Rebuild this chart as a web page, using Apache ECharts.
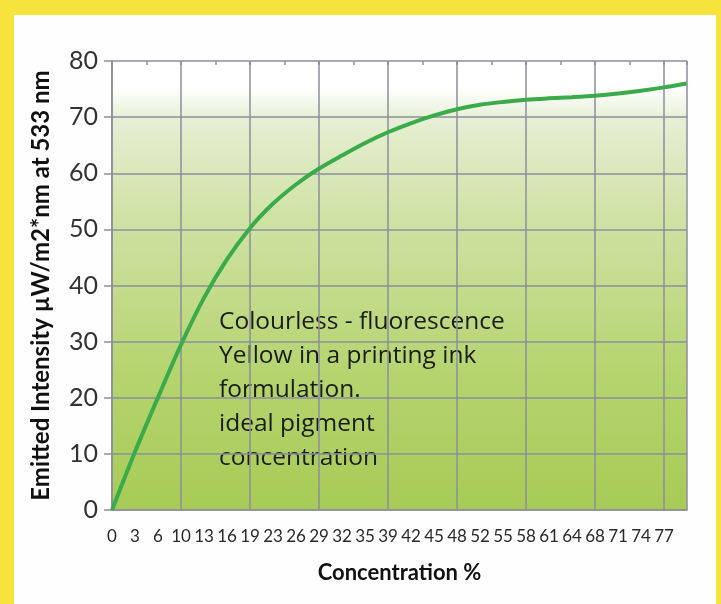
<!DOCTYPE html>
<html>
<head>
<meta charset="utf-8">
<script src="https://cdn.jsdelivr.net/npm/echarts@6/dist/echarts.min.js"></script>
<style>
  html, body { margin: 0; padding: 0; background: #f6e43c; }
  #frame {
    position: absolute; left: 14px; top: 15px; width: 702px; height: 589px;
    background: #fefefe;
  }
  #main { position: absolute; left: 0; top: 0; width: 721px; height: 604px; }
</style>
</head>
<body>
<div id="frame"></div>
<div id="main"></div>
<script>
// concentration step between two axis labels
var STEP = 100 / 31
// tick labels of the x axis
var xLabels = ['0', '3', '6', '10', '13', '16', '19', '23', '26', '29', '32', '35', '39',
  '42', '45', '48', '52', '55', '58', '61', '64', '68', '71', '74', '77']
// concentration %
var conc = [0, 3.2, 6.5, 9.7, 12.9, 16.1, 19.4, 22.6, 25.8, 29.0, 32.3, 35.5, 38.7,
  41.9, 45.2, 48.4, 51.6, 54.8, 58.1, 61.3, 64.5, 67.7, 71.0, 74.2, 77.4, 80.6]
// emitted intensity
var intensity = [0, 10.3, 20.2, 29.5, 37.8, 44.6, 50.3, 54.6, 58.0, 60.8, 63.2, 65.4, 67.3,
  68.9, 70.3, 71.4, 72.2, 72.7, 73.1, 73.35, 73.55, 73.8, 74.2, 74.7, 75.3, 76.0]
var note = 'Colourless - fluorescence\nYellow in a printing ink\nformulation.\nideal pigment\nconcentration'

var FONT = 'Lato'
var GRID = '#8d8e9c'

var chart = echarts.init(document.getElementById('main'))
var option = {
  backgroundColor: 'transparent',
  textStyle: { fontFamily: FONT },
  grid: {
    left: 112, right: 34, top: 61, bottom: 94,
    show: true,
    borderWidth: 0,
    backgroundColor: new echarts.graphic.LinearGradient(0, 0, 0, 1, [
      { offset: 0, color: '#ffffff' },
      { offset: 0.06, color: '#ffffff' },
      { offset: 0.13, color: '#e6efd4' },
      { offset: 0.35, color: '#cfe2a4' },
      { offset: 0.7, color: '#b5d46e' },
      { offset: 1, color: '#a7cb56' }
    ])
  },
  xAxis: [
    {
      type: 'value', min: 0, max: 25 * STEP, interval: STEP,
      name: 'Concentration %', nameLocation: 'middle', nameGap: 52,
      nameTextStyle: { fontSize: 22, fontWeight: 'bold', color: '#111', fontFamily: FONT },
      axisLine: { show: true, lineStyle: { color: GRID, width: 1.5 } },
      axisTick: { show: false },
      splitLine: { show: false },
      axisLabel: {
        fontSize: 17, color: '#2a2a2a', margin: 18, fontFamily: FONT,
        formatter: function (v) {
          var i = Math.round(v / STEP)
          return xLabels[i] || ''
        }
      }
    },
    {
      type: 'value', min: 0, max: 25 * STEP, interval: 3 * STEP,
      axisLine: { show: false }, axisTick: { show: false }, axisLabel: { show: false },
      splitLine: { show: true, lineStyle: { color: GRID, width: 1.5 } }
    },
    {
      type: 'value', min: 0, max: 25 * STEP, interval: 1.5 * STEP,
      axisLine: { show: false }, axisLabel: { show: false }, splitLine: { show: false },
      axisTick: { show: true, inside: true, length: 4, lineStyle: { color: GRID, width: 1.5 } }
    }
  ],
  yAxis: {
    type: 'value', min: 0, max: 80, interval: 10,
    name: 'Emitted Intensity µW/m2*nm at 533 nm', nameLocation: 'middle', nameGap: 59,
    nameTextStyle: { fontSize: 24, fontWeight: 'bold', color: '#111', fontFamily: FONT },
    axisLine: { show: true, lineStyle: { color: GRID, width: 1.5 } },
    axisTick: { show: true, length: 8, lineStyle: { color: GRID, width: 1.5 } },
    splitLine: { show: true, lineStyle: { color: GRID, width: 1.5 } },
    axisLabel: { fontSize: 25, color: '#333', margin: 14, fontFamily: FONT }
  },
  graphic: [
    {
      type: 'text', left: 219, top: 305,
      style: { text: note, fontSize: 24.5, lineHeight: 34, fill: '#1c1c1c', fontFamily: 'Open Sans' }
    }
  ],
  series: [
    {
      type: 'line', xAxisIndex: 0, smooth: 0.3, symbol: 'none',
      lineStyle: { color: '#3aab4a', width: 4 },
      data: conc.map(function (c, i) { return [c, intensity[i]] })
    }
  ]
}
chart.setOption(option)
</script>
</body>
</html>
